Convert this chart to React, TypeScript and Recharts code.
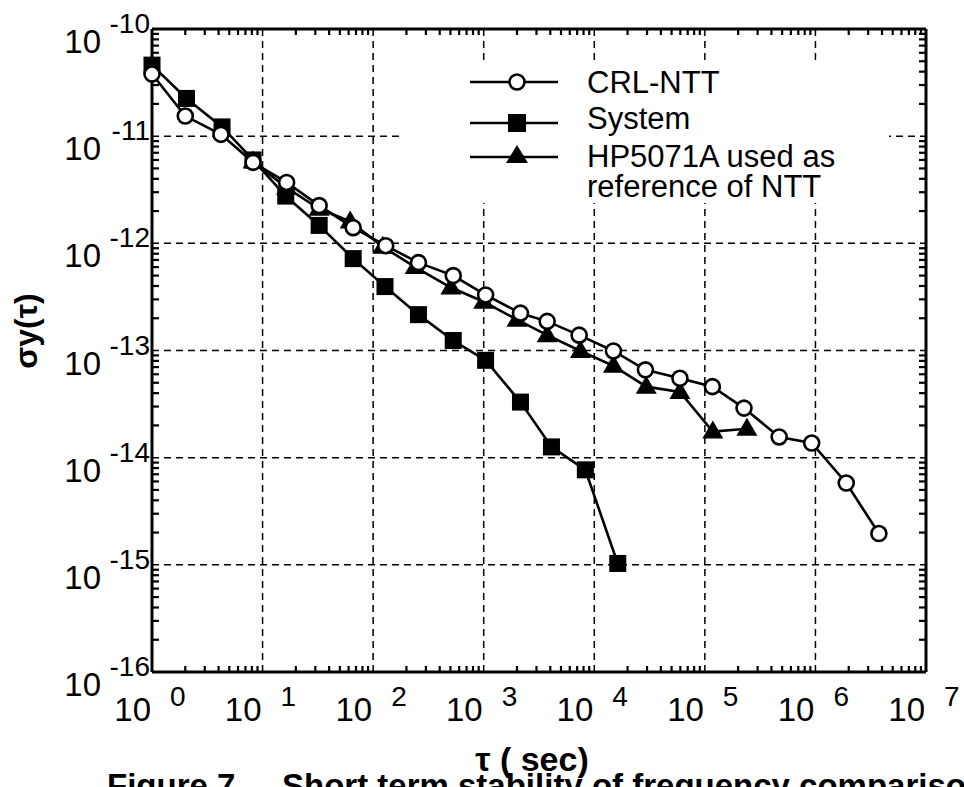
import React from 'react';
import { LineChart, Line, XAxis, YAxis, CartesianGrid, Legend, ReferenceDot } from 'recharts';

// ---- data ----
const tauCRL = [1, 2, 4.2, 8.2, 16.5, 32.5, 66, 130, 257, 530, 1040, 2150, 3750, 7300, 14900, 29000, 59500, 117000, 226000, 470000, 925000, 1.9e6, 3.75e6];
const crlValues = [3.8e-11, 1.54e-11, 1.04e-11, 5.7e-12, 3.7e-12, 2.25e-12, 1.4e-12, 9.5e-13, 6.6e-13, 5.0e-13, 3.3e-13, 2.23e-13, 1.87e-13, 1.39e-13, 9.9e-14, 6.6e-14, 5.5e-14, 4.6e-14, 2.9e-14, 1.56e-14, 1.37e-14, 5.8e-15, 1.96e-15];

const tauSystem = [1, 2.05, 4.3, 8.2, 16.2, 32.5, 66, 128, 257, 530, 1040, 2150, 4100, 8300, 16300];
const systemValues = [4.6e-11, 2.25e-11, 1.22e-11, 6.0e-12, 2.76e-12, 1.47e-12, 7.2e-13, 3.95e-13, 2.16e-13, 1.24e-13, 8.1e-14, 3.3e-14, 1.26e-14, 7.7e-15, 1.03e-15];

const tauHP = [8.2, 16.5, 32.5, 62, 122, 240, 505, 1000, 2000, 3750, 7500, 14900, 29500, 59500, 118000, 240000];
const hpValues = [5.8e-12, 3.3e-12, 2.1e-12, 1.6e-12, 9.3e-13, 6.0e-13, 3.87e-13, 2.85e-13, 1.94e-13, 1.39e-13, 9.9e-14, 7.2e-14, 4.6e-14, 4.1e-14, 1.75e-14, 1.86e-14];

const xMajorTicks = [1, 10, 100, 1e3, 1e4, 1e5, 1e6, 1e7];
const xTickExponents = ['0', '1', '2', '3', '4', '5', '6', '7'];
const yMajorTicks = [1e-16, 1e-15, 1e-14, 1e-13, 1e-12, 1e-11, 1e-10];
const yTickExponents = ['-16', '-15', '-14', '-13', '-12', '-11', '-10'];
const minorMultipliers = [2, 3, 4, 5, 6, 7, 8, 9];

const seriesNames = ['CRL-NTT', 'System', 'HP5071A used as', 'reference of NTT'];
const xLabel = 'τ ( sec)';
const yLabel = 'σy(τ)';
const captionA = 'Figure 7.';
const captionB = 'Short term stability of frequency comparison';

const crlData = tauCRL.map((x, i) => ({ x, y: crlValues[i] }));
const systemData = tauSystem.map((x, i) => ({ x, y: systemValues[i] }));
const hpData = tauHP.map((x, i) => ({ x, y: hpValues[i] }));

const xMinorTicks = xMajorTicks.slice(0, -1).flatMap((d) => minorMultipliers.map((m) => m * d));
const yMinorTicks = yMajorTicks.slice(0, -1).flatMap((d) => minorMultipliers.map((m) => m * d));
const X_MIN = xMajorTicks[0];
const X_MAX = xMajorTicks[xMajorTicks.length - 1];
const Y_MIN = yMajorTicks[0];
const Y_MAX = yMajorTicks[yMajorTicks.length - 1];

// ---- layout ----
const W = 964;
const H = 787;
const FONT = "'Liberation Sans', Arial, Helvetica, sans-serif";
const AXIS_LEFT = 152;
const emptyLabel = () => '';

const XTick = (props: any) => {
  const { x, index } = props;
  return (
    <g>
      <text x={x - 1} y={721} textAnchor="end" fontSize={33} fontFamily={FONT} fill="#000">10</text>
      <text x={x + 18} y={706} textAnchor="start" fontSize={28} fontFamily={FONT} fill="#000">{xTickExponents[index]}</text>
    </g>
  );
};

const YTick = (props: any) => {
  const { y, index } = props;
  return (
    <g>
      <text x={AXIS_LEFT - 51} y={y + 24} textAnchor="end" fontSize={33} fontFamily={FONT} fill="#000">10</text>
      <text x={AXIS_LEFT - 2} y={y + 4} textAnchor="end" fontSize={28} fontFamily={FONT} fill="#000">{yTickExponents[index]}</text>
    </g>
  );
};

// inward minor tick marks drawn at library-computed positions
const tickShape = (dx: number, dy: number) => (props: any) => {
  const { cx, cy } = props;
  if (cx == null || cy == null) return <g />;
  return <line x1={cx} y1={cy} x2={cx + dx} y2={cy + dy} stroke="#000" strokeWidth={2.2} />;
};
const upTick = tickShape(0, -6);
const downTick = tickShape(0, 6);
const rightTick = tickShape(7, 0);
const leftTick = tickShape(-7, 0);

const CircleDot = (props: any) => {
  const { cx, cy, index } = props;
  return <circle key={`c${index}`} cx={cx} cy={cy} r={7.5} fill="#fff" stroke="#000" strokeWidth={2.6} />;
};
const SquareDot = (props: any) => {
  const { cx, cy, index } = props;
  return <rect key={`s${index}`} x={cx - 8.5} y={cy - 8.5} width={17} height={17} fill="#000" />;
};
const TriangleDot = (props: any) => {
  const { cx, cy, index } = props;
  return (
    <polygon key={`t${index}`} points={`${cx},${cy - 11} ${cx - 10.5},${cy + 7} ${cx + 10.5},${cy + 7}`} fill="#000" />
  );
};

const LegendContent = () => (
  <svg width={486} height={141} style={{ display: 'block' }}>
    <g fontFamily={FONT} fontSize={31} fill="#000">
      <line x1={67} x2={155} y1={20} y2={20} stroke="#000" strokeWidth={2.6} />
      <circle cx={114} cy={20} r={7.5} fill="#fff" stroke="#000" strokeWidth={2.6} />
      <text x={184} y={31}>{seriesNames[0]}</text>

      <line x1={67} x2={155} y1={61} y2={61} stroke="#000" strokeWidth={2.6} />
      <rect x={105} y={52} width={18} height={18} fill="#000" />
      <text x={184} y={67}>{seriesNames[1]}</text>

      <line x1={67} x2={155} y1={95} y2={95} stroke="#000" strokeWidth={2.6} />
      <polygon points="114,83 103,101 125,101" fill="#000" />
      <text x={184} y={105}>{seriesNames[2]}</text>
      <text x={184} y={135}>{seriesNames[3]}</text>
    </g>
  </svg>
);

export default function App() {
  return (
    <div style={{ position: 'absolute', left: 0, top: 0, width: W, height: H, background: '#fff', overflow: 'hidden' }}>
      <LineChart width={W} height={H} margin={{ top: 28, right: 37, bottom: 74, left: 53 }}>
        <CartesianGrid
          xAxisId="b"
          yAxisId="l"
          stroke="#000"
          strokeWidth={1.5}
          strokeDasharray="7 5"
          verticalValues={xMajorTicks}
          horizontalValues={yMajorTicks}
        />
        <XAxis
          xAxisId="b"
          dataKey="x"
          type="number"
          scale="log"
          domain={[X_MIN, X_MAX]}
          ticks={xMajorTicks}
          interval={0}
          minTickGap={0}
          tickFormatter={emptyLabel}
          tick={XTick}
          tickLine={false}
          axisLine={{ stroke: '#000', strokeWidth: 3 }}
          height={41}
        />
        <XAxis
          xAxisId="t"
          orientation="top"
          type="number"
          scale="log"
          domain={[X_MIN, X_MAX]}
          allowDataOverflow
          tick={false}
          tickLine={false}
          axisLine={{ stroke: '#000', strokeWidth: 3 }}
          height={1}
        />
        <YAxis
          yAxisId="l"
          type="number"
          scale="log"
          domain={[Y_MIN, Y_MAX]}
          ticks={yMajorTicks}
          interval={0}
          minTickGap={0}
          tickFormatter={emptyLabel}
          tick={YTick}
          tickLine={false}
          axisLine={{ stroke: '#000', strokeWidth: 3 }}
          width={99}
        />
        <YAxis
          yAxisId="r"
          orientation="right"
          type="number"
          scale="log"
          domain={[Y_MIN, Y_MAX]}
          allowDataOverflow
          tick={false}
          tickLine={false}
          axisLine={{ stroke: '#000', strokeWidth: 3 }}
          width={1}
        />
        {xMinorTicks.map((v) => (
          <ReferenceDot key={`xb${v}`} xAxisId="b" yAxisId="l" x={v} y={Y_MIN} r={0} ifOverflow="visible" shape={upTick} />
        ))}
        {xMinorTicks.map((v) => (
          <ReferenceDot key={`xt${v}`} xAxisId="b" yAxisId="l" x={v} y={Y_MAX} r={0} ifOverflow="visible" shape={downTick} />
        ))}
        {yMinorTicks.map((v) => (
          <ReferenceDot key={`yl${v}`} xAxisId="b" yAxisId="l" x={X_MIN} y={v} r={0} ifOverflow="visible" shape={rightTick} />
        ))}
        {yMinorTicks.map((v) => (
          <ReferenceDot key={`yr${v}`} xAxisId="b" yAxisId="l" x={X_MAX} y={v} r={0} ifOverflow="visible" shape={leftTick} />
        ))}
        <Legend
          layout="vertical"
          align="center"
          verticalAlign="middle"
          content={LegendContent}
          wrapperStyle={{ left: 403, top: 62, width: 486, height: 141, background: '#fff', margin: 0, padding: 0 }}
        />
        <Line
          data={systemData}
          dataKey="y"
          xAxisId="b"
          yAxisId="l"
          name={seriesNames[1]}
          stroke="#000"
          strokeWidth={2.6}
          dot={SquareDot}
          activeDot={false}
          isAnimationActive={false}
        />
        <Line
          data={hpData}
          dataKey="y"
          xAxisId="b"
          yAxisId="l"
          name={seriesNames[2]}
          stroke="#000"
          strokeWidth={2.6}
          dot={TriangleDot}
          activeDot={false}
          isAnimationActive={false}
        />
        <Line
          data={crlData}
          dataKey="y"
          xAxisId="b"
          yAxisId="l"
          name={seriesNames[0]}
          stroke="#000"
          strokeWidth={2.6}
          dot={CircleDot}
          activeDot={false}
          isAnimationActive={false}
        />
        <text x={37} y={331} transform="rotate(-90 37 331)" textAnchor="middle" fontSize={32} fontWeight="bold" fontFamily={FONT} fill="#000">{yLabel}</text>
        <text x={532} y={771} textAnchor="middle" fontSize={34} fontWeight="bold" fontFamily={FONT} fill="#000">{xLabel}</text>
        <text x={107} y={797} fontSize={33} fontWeight="bold" fontFamily={FONT} fill="#000">{captionA}</text>
        <text x={282} y={797} fontSize={33} fontWeight="bold" fontFamily={FONT} fill="#000">{captionB}</text>
      </LineChart>
    </div>
  );
}
